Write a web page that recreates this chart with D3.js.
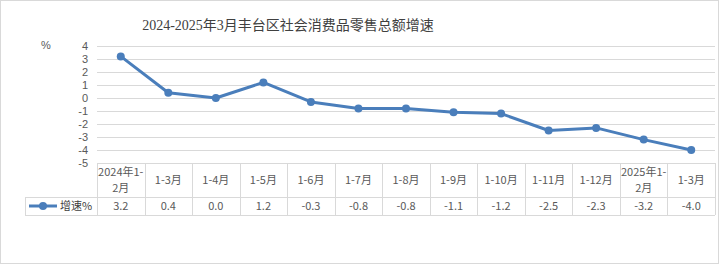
<!DOCTYPE html>
<html>
<head>
<meta charset="utf-8">
<script src="https://cdn.jsdelivr.net/npm/d3@7"></script>
<style>
  body { margin: 0; background: #fff; }
  svg text { font-family: "Noto Sans CJK SC", "Noto Sans", sans-serif; }
</style>
</head>
<body>
<div id="chart"></div>
<script>
var categories = [['2024年1-', '2月'], ['1-3月'], ['1-4月'], ['1-5月'], ['1-6月'], ['1-7月'], ['1-8月'],
                  ['1-9月'], ['1-10月'], ['1-11月'], ['1-12月'], ['2025年1-', '2月'], ['1-3月']];
var growth     = [3.2, 0.4, 0.0, 1.2, -0.3, -0.8, -0.8, -1.1, -1.2, -2.5, -2.3, -3.2, -4.0];
var yTicks     = [4, 3, 2, 1, 0, -1, -2, -3, -4, -5];
var seriesName = '增速%';
var title      = '2024-2025年3月丰台区社会消费品零售总额增速';

var w = 719, h = 264;
var lineColor = '#4a7ebb';
var gridColor = '#d9d9d9';
var textColor = '#595959';

var svg = d3.select('#chart').append('svg')
            .attr('width', w)
            .attr('height', h);

svg.append('rect')
   .attr('x', 0.5).attr('y', 0.5)
   .attr('width', w - 1).attr('height', h - 1)
   .attr('fill', '#fff')
   .attr('stroke', gridColor);

svg.append('text')
   .attr('x', 288).attr('y', 30)
   .attr('text-anchor', 'middle')
   .style('font-family', '"Liberation Serif", "Noto Sans CJK SC", serif')
   .style('font-size', '14px')
   .attr('fill', '#404040')
   .text(title);

var plotLeft = 97, plotRight = 715, plotTop = 46, plotBottom = 163;
var rowMid = 197, rowBottom = 215;

var x = d3.scaleBand()
          .domain(d3.range(categories.length))
          .range([plotLeft, plotRight]);

var y = d3.scaleLinear()
          .domain([-5, 4])
          .range([plotBottom, plotTop]);

// gridlines
svg.append('g').selectAll('line')
   .data(yTicks)
   .enter()
   .append('line')
   .attr('x1', plotLeft).attr('x2', plotRight)
   .attr('y1', function(d) { return Math.round(y(d)) + 0.5 })
   .attr('y2', function(d) { return Math.round(y(d)) + 0.5 })
   .attr('stroke', gridColor);

// y labels
svg.append('g').selectAll('text')
   .data(yTicks)
   .enter()
   .append('text')
   .attr('x', 88)
   .attr('y', function(d) { return y(d) })
   .attr('dy', '0.35em')
   .attr('text-anchor', 'end')
   .style('font-family', '"Liberation Sans", Arial, sans-serif')
   .style('font-size', '11px')
   .attr('fill', textColor)
   .text(function(d) { return d });

svg.append('text')
   .attr('x', 46).attr('y', 49)
   .attr('text-anchor', 'middle')
   .style('font-family', '"Liberation Sans", Arial, sans-serif')
   .style('font-size', '11px')
   .attr('fill', textColor)
   .text('%');

// data table
var table = svg.append('g');

table.append('line')
     .attr('x1', plotLeft).attr('x2', plotRight)
     .attr('y1', rowMid + 0.5).attr('y2', rowMid + 0.5)
     .attr('stroke', gridColor);
table.append('line')
     .attr('x1', 25).attr('x2', plotLeft)
     .attr('y1', rowMid + 0.5).attr('y2', rowMid + 0.5)
     .attr('stroke', gridColor);
table.append('line')
     .attr('x1', 25).attr('x2', plotRight)
     .attr('y1', rowBottom + 0.5).attr('y2', rowBottom + 0.5)
     .attr('stroke', gridColor);
table.append('line')
     .attr('x1', 25.5).attr('x2', 25.5)
     .attr('y1', rowMid).attr('y2', rowBottom)
     .attr('stroke', gridColor);

table.selectAll('.vline')
     .data(d3.range(categories.length + 1))
     .enter()
     .append('line')
     .attr('class', 'vline')
     .attr('x1', function(d) { return Math.round(plotLeft + d * x.bandwidth()) + 0.5 })
     .attr('x2', function(d) { return Math.round(plotLeft + d * x.bandwidth()) + 0.5 })
     .attr('y1', plotBottom).attr('y2', rowBottom)
     .attr('stroke', gridColor);

var headers = table.selectAll('.hdr')
                   .data(categories)
                   .enter()
                   .append('text')
                   .attr('class', 'hdr')
                   .attr('text-anchor', 'middle')
                   .style('font-size', '11px')
                   .attr('fill', textColor);

headers.each(function(d, i) {
  var t = d3.select(this);
  var cx = x(i) + x.bandwidth() / 2;
  var startY = d.length == 1 ? 184 : 176;
  d.forEach(function(line, k) {
    t.append('tspan')
     .attr('x', cx)
     .attr('y', startY + k * 16)
     .text(line);
  });
});

table.selectAll('.val')
     .data(growth)
     .enter()
     .append('text')
     .attr('class', 'val')
     .attr('x', function(d, i) { return x(i) + x.bandwidth() / 2 })
     .attr('y', 210)
     .attr('text-anchor', 'middle')
     .style('font-size', '11px')
     .attr('fill', textColor)
     .text(function(d) { return d.toFixed(1) });

// legend key
table.append('line')
     .attr('x1', 29).attr('x2', 57)
     .attr('y1', 206).attr('y2', 206)
     .attr('stroke', lineColor)
     .attr('stroke-width', 3);
table.append('circle')
     .attr('cx', 43).attr('cy', 206).attr('r', 4)
     .attr('fill', lineColor);
table.append('text')
     .attr('x', 60).attr('y', 210)
     .style('font-size', '11px')
     .attr('fill', '#404040')
     .text(seriesName);

// series
var line = d3.line()
             .x(function(d, i) { return x(i) + x.bandwidth() / 2 })
             .y(function(d) { return y(d) });

svg.append('path')
   .datum(growth)
   .attr('d', line)
   .attr('fill', 'none')
   .attr('stroke', lineColor)
   .attr('stroke-width', 3)
   .attr('stroke-linejoin', 'round');

svg.append('g').selectAll('circle')
   .data(growth)
   .enter()
   .append('circle')
   .attr('cx', function(d, i) { return x(i) + x.bandwidth() / 2 })
   .attr('cy', function(d) { return y(d) })
   .attr('r', 4)
   .attr('fill', lineColor);
</script>
</body>
</html>
